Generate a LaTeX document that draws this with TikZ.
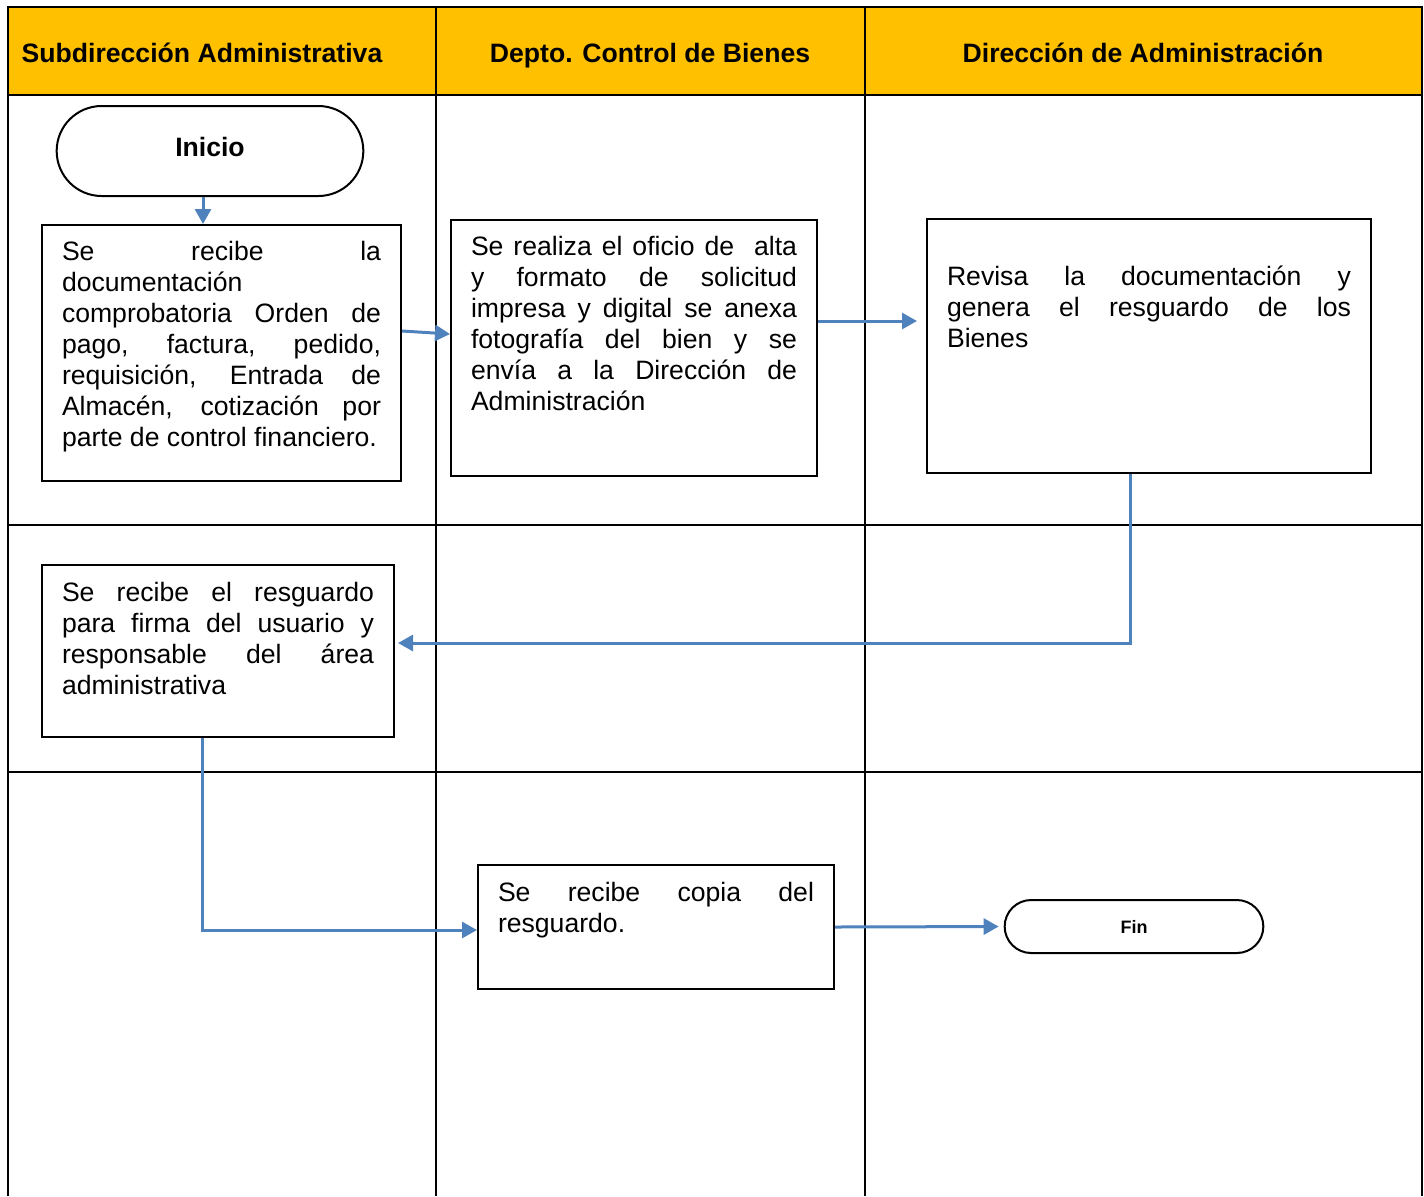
\documentclass[tikz,border=0pt]{standalone}
\usepackage{fontspec}
\setmainfont{Liberation Sans}
\usetikzlibrary{shapes.misc,positioning,arrows.meta,calc}

\definecolor{carril}{HTML}{FFC000}
\definecolor{flujo}{HTML}{4F81BD}
\hyphenpenalty=10000

\begin{document}
\begin{tikzpicture}[x=0.5pt,y=-0.5pt,
  >={Triangle[length=7.5pt,width=8pt]},
  every node/.style={font=\fontsize{13.3}{15.5}\selectfont},
  encabezado/.style={anchor=base,font=\fontsize{13.3}{15.5}\selectfont\bfseries},
  proceso/.style={draw,line width=1pt,anchor=north west,align=justify,
    inner xsep=10pt,inner ysep=8pt,text height=10pt},
  terminal/.style={draw,rounded rectangle,line width=1pt},
  flecha/.style={->,draw=flujo,line width=1.5pt},
  ]
	\useasboundingbox (0,0) rectangle (1424,1196);
	% carriles
	\fill [carril] (8,7) rectangle (1422,95);
	\draw [line width=1.2pt] (8,1196) -- (8,7) -- (1422,7) -- (1422,1196);
	\foreach \x in {436,865} \draw [line width=1.2pt] (\x,7) -- (\x,1196);
	\foreach \y in {95,525,772} \draw [line width=1.2pt] (8,\y) -- (1422,\y);
	\node [encabezado] (h1) at (202,62) {Subdirección Administrativa};
	\node [encabezado] (h2) at (650,62) {Depto. Control de Bienes};
	\node [encabezado] (h3) at (1143,62) {Dirección de Administración};
	% pasos
	\node [terminal,minimum width=160pt,minimum height=45pt,text depth=4pt,font=\fontsize{13.3}{15.5}\selectfont\bfseries] (inicio) at (210,151) {Inicio};
	\node [proceso,text width=159.5pt,text height=9.5pt,text depth=102.5pt] (b1) at (41,224)
	  {Se recibe la\linebreak documentación\linebreak comprobatoria Orden de\linebreak pago, factura, pedido,\linebreak requisición, Entrada de\linebreak Almacén, cotización por\linebreak parte de control financiero.};
	\node [proceso,text width=163pt,text height=9.5pt,text depth=102.5pt] (b2) at (450,219)
	  {Se realiza el oficio de \ alta\linebreak y formato de solicitud\linebreak impresa y digital se anexa\linebreak fotografía del bien y se\linebreak envía a la Dirección de\linebreak Administración};
	\node [proceso,text width=202pt,text height=25pt,text depth=86pt] (b3) at (926,218)
	  {Revisa la documentación y\linebreak genera el resguardo de los\linebreak Bienes};
	\node [proceso,text width=156pt,text depth=60pt] (b4) at (41,564)
	  {Se recibe el resguardo\linebreak para firma del usuario y\linebreak responsable del área\linebreak administrativa};
	\node [proceso,text width=158pt,text depth=36pt] (b5) at (477,864)
	  {Se recibe copia del\linebreak resguardo.};
	\node [terminal,minimum width=136pt,minimum height=26.5pt,font=\fontsize{9}{11}\selectfont\bfseries] (fin) at (1134,926.5) {Fin};
	% flujo
	\coordinate (s2) at ([yshift=13.5pt]b2.east);
	\draw [flecha] ([xshift=-3.5pt]inicio.south) -- ([xshift=-3.5pt]inicio.south |- b1.north);
	\draw [flecha] ([yshift=11pt]b1.east) -- ([yshift=7pt]b2.west);
	\draw [flecha,shorten >=4.5pt] (s2) -- (s2 -| b3.west);
	\draw [flecha,shorten >=1.5pt] ([xshift=-9.5pt]b3.south) |- ([yshift=4pt]b4.east);
	\draw [flecha] ([xshift=-8pt]b4.south) |- ([yshift=-1.5pt]b5.west);
	\draw [flecha,shorten >=2.5pt] (b5.east) -- (fin.west);
\end{tikzpicture}
\end{document}
